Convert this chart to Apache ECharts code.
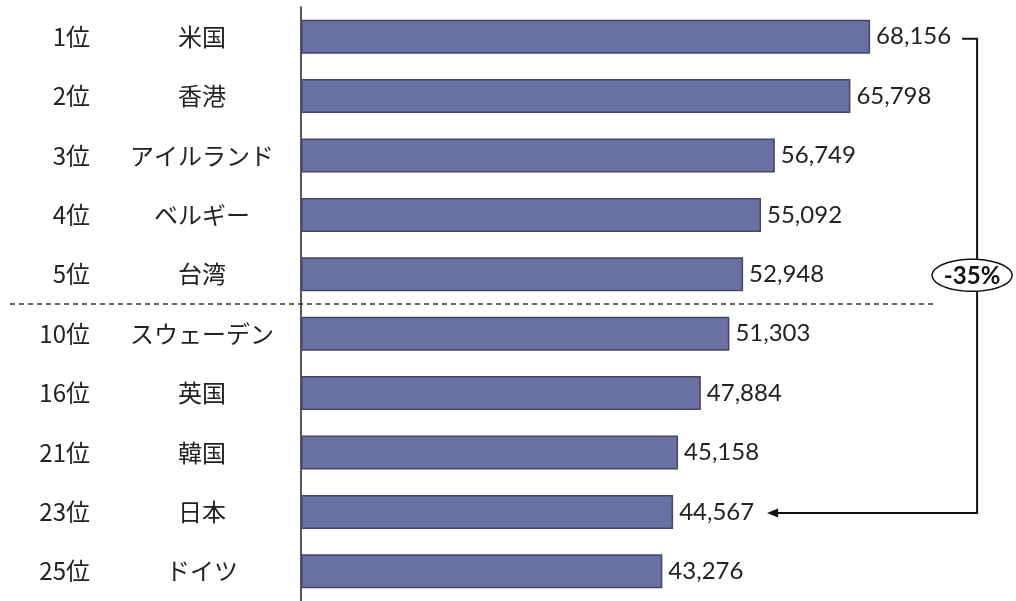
<!DOCTYPE html>
<html><head><meta charset="utf-8">
<script src="https://cdn.jsdelivr.net/npm/echarts@6/dist/echarts.min.js"></script>
<style>html,body{margin:0;padding:0;background:#fff}#c{width:1016px;height:601px}</style>
</head><body><div id="c"></div>
<script>
const ranks = ['1位','2位','3位','4位','5位','10位','16位','21位','23位','25位'];
const countries = ['米国','香港','アイルランド','ベルギー','台湾','スウェーデン','英国','韓国','日本','ドイツ'];
const values = [68156,65798,56749,55092,52948,51303,47884,45158,44567,43276];
const diffLabel = '-35%';
const fromIdx = 0, toIdx = 8, sepAfter = 4;

const chart = echarts.init(document.getElementById('c'), null, {renderer:'canvas'});
const cjk = '"Noto Sans CJK JP", sans-serif';
const numFont = 'Lato, "DejaVu Sans", sans-serif';

chart.setOption({
  animation:false,
  backgroundColor:'#ffffff',
  grid:{left:301, top:7, width:668, height:597},
  xAxis:{type:'value', min:0, max:80000, show:false},
  yAxis:{
    type:'category', inverse:true, data:countries,
    axisLine:{show:true, lineStyle:{color:'#222', width:1.5}},
    axisTick:{show:false},
    axisLabel:{
      align:'right', margin:-13,
      formatter:(v,i)=>'{r|'+ranks[i]+'}{n|'+v+'}',
      rich:{
        r:{fontFamily:cjk, fontSize:24, color:'#222'},
        n:{width:224, align:'center', fontFamily:cjk, fontSize:24, color:'#222'}
      }
    }
  },
  series:[{
    type:'bar', data:values, barWidth:34,
    itemStyle:{color:'#6b70a3', borderColor:'#43476a', borderWidth:1.5},
    label:{show:true, position:'right', distance:6, fontFamily:numFont, fontSize:24, color:'#222',
      formatter:p=>p.value.toLocaleString('en-US')}
  }]
});

const X = v=>chart.convertToPixel({xAxisIndex:0}, v);
const Y = i=>chart.convertToPixel({yAxisIndex:0}, i);
const yTop = Y(fromIdx)+2, yBot = Y(toIdx)+1;
const bx = X(values[fromIdx])+107;
const sx = X(values[fromIdx])+92;
const tip = X(values[toIdx])+94;
const ySep = (Y(sepAfter)+Y(sepAfter+1))/2;
const ecx = bx-5, ecy = Y(sepAfter)+1, erx = 40, ery = 16;
const ell = [];
for(let k=0;k<72;k++){const a=k/72*Math.PI*2; ell.push([ecx+erx*Math.cos(a), ecy+ery*Math.sin(a)]);}

chart.setOption({graphic:[
  {type:'line', shape:{x1:10,y1:ySep,x2:935,y2:ySep}, style:{stroke:'#333', lineWidth:1.5, lineDash:[5,4]}},
  {type:'polyline', shape:{points:[[sx,yTop],[bx,yTop],[bx,yBot],[tip+8,yBot]]}, style:{stroke:'#111', lineWidth:2, fill:null}},
  {type:'polygon', shape:{points:[[tip,yBot],[tip+11,yBot-4.5],[tip+11,yBot+4.5]]}, style:{fill:'#111'}},
  {type:'polygon', shape:{points:ell}, style:{fill:'#fff', stroke:'#111', lineWidth:1.5}, z:10},
  {type:'text', x:ecx, y:ecy+1, z:11, style:{text:diffLabel, fontFamily:numFont, fontWeight:'bold', fontSize:24, fill:'#111', align:'center', verticalAlign:'middle'}}
]});
</script></body></html>
